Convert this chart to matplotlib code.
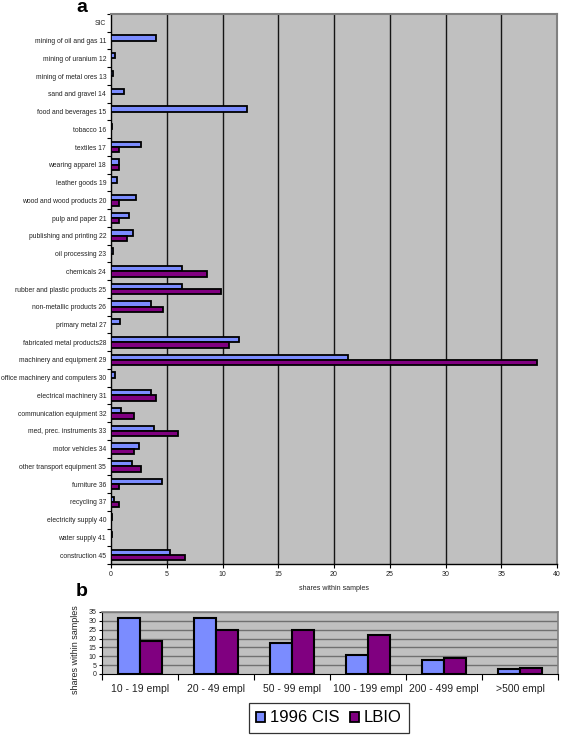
import numpy as np
import matplotlib
matplotlib.use("Agg")
import matplotlib.pyplot as plt
from matplotlib.patches import Patch

plt.rcParams['font.family'] = ['Liberation Sans', 'DejaVu Sans']

# ---- panel a data ----
sectors = ["SIC", "mining of oil and gas 11", "mining of uranium 12", "mining of metal ores 13",
           "sand and gravel 14", "food and beverages 15", "tobacco 16", "textiles 17",
           "wearing apparel 18", "leather goods 19", "wood and wood products 20",
           "pulp and paper 21", "publishing and printing 22", "oil processing 23",
           "chemicals 24", "rubber and plastic products 25", "non-metallic products 26",
           "primary metal 27", "fabricated metal products28", "machinery and equipment 29",
           "office machinery and computers 30", "electrical machinery 31",
           "communication equipment 32", "med, prec. instruments 33", "motor vehicles 34",
           "other transport equipment 35", "furniture 36", "recycling 37",
           "electricity supply 40", "water supply 41", "construction 45"]
nan = np.nan
cis_sector = [nan, 4.0, 0.4, 0.2, 1.15, 12.2, 0.1, 2.7, 0.7, 0.5, 2.2, 1.6, 1.95, 0.2,
              6.4, 6.4, 3.55, 0.8, 11.5, 21.3, 0.35, 3.55, 0.9, 3.9, 2.55, 1.85, 4.6,
              0.3, 0.1, 0.1, 5.25]
lbio_sector = [nan, nan, nan, nan, nan, nan, nan, 0.75, 0.75, nan, 0.7, 0.7, 1.4, nan,
               8.6, 9.9, 4.7, nan, 10.55, 38.2, nan, 4.0, 2.05, 6.0, 2.05, 2.7, 0.75,
               0.7, nan, nan, 6.65]
x_ticks_a = [0, 5, 10, 15, 20, 25, 30, 35, 40]

# ---- panel b data ----
size_classes = ["10 - 19 empl", "20 - 49 empl", "50 - 99 empl", "100 - 199 empl",
                "200 - 499 empl", ">500 empl"]
cis_size = [31.4, 31.8, 17.3, 10.9, 7.9, 3.0]
lbio_size = [18.8, 24.8, 24.8, 21.8, 9.2, 3.4]
y_ticks_b = [0, 5, 10, 15, 20, 25, 30, 35]

series_names = ["1996 CIS", "LBIO"]

C_CIS = "#7b8cff"
C_LBIO = "#800080"
BG = "#c0c0c0"
TXT = "#222222"

W, H = 561, 738
fig = plt.figure(figsize=(W / 100, H / 100), dpi=100)

def fx(px):
    return px / W

def fy(py):
    return 1 - py / H

# ---------- panel a ----------
ax = fig.add_axes([fx(111), fy(564), fx(557) - fx(111), fy(14) - fy(564)])
ax.set_facecolor(BG)
n = len(sectors)
y = np.arange(n)
bh = 0.3
ax.barh(y - bh / 2, cis_sector, height=bh, color=C_CIS, edgecolor="black", linewidth=1.3, zorder=3)
ax.barh(y + bh / 2, lbio_sector, height=bh, color=C_LBIO, edgecolor="black", linewidth=1.3, zorder=3)
ax.set_ylim(n - 0.5, -0.5)
ax.set_xlim(0, 40)
ax.set_yticks(y)
ax.set_yticklabels(sectors, fontsize=4.9, color=TXT)
ax.set_yticks(np.arange(-0.5, n, 1), minor=True)
ax.tick_params(axis="y", which="major", length=0, pad=3.5)
ax.tick_params(axis="y", which="minor", length=3, width=0.8, color="black", direction="out")
ax.set_xticks(x_ticks_a)
ax.set_xticklabels([str(v) for v in x_ticks_a], fontsize=5, color=TXT)
ax.tick_params(axis="x", length=3, width=0.8, pad=2)
for v in x_ticks_a[1:-1]:
    ax.axvline(v, color="#151515", linewidth=1.0, zorder=1)
ax.set_xlabel("shares within samples", fontsize=5, color=TXT, labelpad=5)
for s in ["top", "right"]:
    ax.spines[s].set_color("#808080")
    ax.spines[s].set_linewidth(1.5)
ax.spines["left"].set_color("black")
ax.spines["left"].set_linewidth(1.0)
ax.spines["bottom"].set_color("black")
ax.spines["bottom"].set_linewidth(1.0)
fig.text(fx(82), fy(8), "a", fontsize=14, fontweight="bold", ha="center", va="center")

# ---------- panel b ----------
bx = fig.add_axes([fx(102), fy(674), fx(558) - fx(102), fy(612) - fy(674)])
bx.set_facecolor(BG)
m = len(size_classes)
xb = np.arange(m)
bw = 0.29
bx.bar(xb - bw / 2, cis_size, width=bw, color=C_CIS, edgecolor="black", linewidth=1.5, zorder=3)
bx.bar(xb + bw / 2, lbio_size, width=bw, color=C_LBIO, edgecolor="black", linewidth=1.5, zorder=3)
bx.set_xlim(-0.5, m - 0.5)
bx.set_ylim(0, 35)
bx.set_yticks(y_ticks_b)
bx.set_yticklabels([str(v) for v in y_ticks_b], fontsize=5, color=TXT)
bx.tick_params(axis="y", length=2, width=0.8, pad=2)
for v in y_ticks_b[1:]:
    bx.axhline(v, color="#707070", linewidth=1.0, zorder=1)
bx.set_xticks(xb)
bx.set_xticklabels(size_classes, fontsize=7.5, color=TXT)
bx.set_xticks(np.arange(-0.5, m, 1), minor=True)
bx.tick_params(axis="x", which="major", length=0, pad=7)
bx.tick_params(axis="x", which="minor", length=4, width=0.8, color="black")
bx.set_ylabel("shares within samples", fontsize=6.5, color=TXT)
bx.yaxis.set_label_coords((80 - 102) / 456, (674 - 650) / 62)
for s in ["top", "right"]:
    bx.spines[s].set_color("#808080")
    bx.spines[s].set_linewidth(1.2)
bx.spines["left"].set_color("black")
bx.spines["bottom"].set_color("black")
fig.text(fx(82), fy(592), "b", fontsize=14, fontweight="bold", ha="center", va="center")

# ---------- legend ----------
handles = [Patch(facecolor=C_CIS, edgecolor="black", linewidth=1.3),
           Patch(facecolor=C_LBIO, edgecolor="black", linewidth=1.3)]
leg = fig.legend(handles, series_names, loc="center", bbox_to_anchor=(fx(329), fy(718)),
                 ncol=2, fontsize=12, frameon=True, fancybox=False, handlelength=0.55,
                 handleheight=0.55, handletextpad=0.3, columnspacing=0.6,
                 borderpad=0.45, borderaxespad=0)
leg.get_frame().set_edgecolor("black")
leg.get_frame().set_linewidth(0.9)

fig.savefig("out.png", dpi=100)
